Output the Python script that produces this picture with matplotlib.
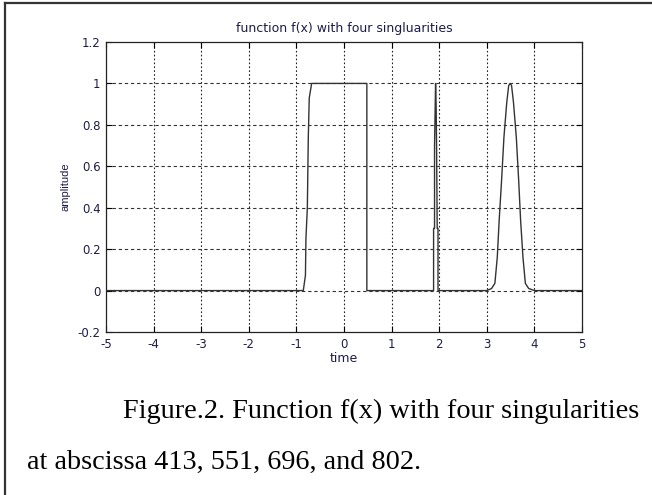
import numpy as np
import matplotlib.pyplot as plt
from matplotlib.lines import Line2D

# points (time, amplitude)
step_x = [-5.0, -0.855, -0.81, -0.80, -0.77, -0.75, -0.73, -0.68, 0.48, 0.48]
step_y = [0.0, 0.0, 0.074, 0.25, 0.40, 0.74, 0.93, 1.0, 1.0, 0.0]

spike_x = [1.882, 1.882, 1.902, 1.902, 1.924, 1.935, 1.945, 1.958, 1.975, 1.975]
spike_y = [0.0, 0.30, 0.30, 0.70, 1.0, 0.90, 0.70, 0.30, 0.30, 0.0]

bump_x = [3.00, 3.10, 3.17, 3.22, 3.26, 3.31, 3.36, 3.42, 3.46, 3.49,
          3.52, 3.56, 3.62, 3.67, 3.71, 3.76, 3.81, 3.88, 4.00, 5.0]
bump_y = [0.0, 0.01, 0.035, 0.16, 0.34, 0.53, 0.74, 0.91, 0.99, 1.0,
          0.99, 0.91, 0.74, 0.53, 0.34, 0.16, 0.035, 0.01, 0.0, 0.0]

xticks = [-5, -4, -3, -2, -1, 0, 1, 2, 3, 4, 5]
yticks = [-0.2, 0, 0.2, 0.4, 0.6, 0.8, 1, 1.2]
ytick_labels = ['-0.2', '0', '0.2', '0.4', '0.6', '0.8', '1', '1.2']

title = 'function f(x) with four singluarities'
caption1 = 'Figure.2. Function f(x) with four singularities'
caption2 = 'at abscissa 413, 551, 696, and 802.'

txt_col = '#1c1c48'
plt.rcParams['font.family'] = ['DejaVu Sans']

fig = plt.figure(figsize=(6.52, 4.95), dpi=100)
ax = fig.add_axes([106 / 652, 1 - 332 / 495, 476 / 652, 290 / 495])

t = np.concatenate([step_x, spike_x, bump_x])
a = np.concatenate([step_y, spike_y, bump_y])
ax.plot(t, a, color='#333333', lw=1.0, zorder=3)

ax.set_xlim(-5, 5)
ax.set_ylim(-0.2, 1.2)
ax.set_xticks(xticks)
ax.set_xticklabels([str(v) for v in xticks])
ax.set_yticks(yticks)
ax.set_yticklabels(ytick_labels)
ax.tick_params(direction='in', length=4, width=0.8, top=True, right=True,
               labelsize=8.5, labelcolor=txt_col, pad=4)

# matlab-ish grid: dotted verticals, dashed horizontals
for v in xticks[1:-1]:
    ax.axvline(v, color='#222222', lw=0.8, dashes=(1.5, 2.0), zorder=1)
for v in yticks[1:-1]:
    ax.axhline(v, color='#333333', lw=0.8, dashes=(3.0, 2.5), zorder=1)

for s in ax.spines.values():
    s.set_linewidth(0.9)
    s.set_color('#222222')

ax.set_title(title, fontsize=9, color=txt_col, pad=7)
ax.set_xlabel('time', fontsize=9, color=txt_col, labelpad=1)
ax.set_ylabel('amplitude', fontsize=8, color=txt_col, labelpad=5,
              family='Liberation Sans')

# frame of the page
fig.add_artist(Line2D([5 / 652, 5 / 652], [0, 1 - 3 / 495], transform=fig.transFigure,
                      color='#333333', lw=1.6))
fig.add_artist(Line2D([5 / 652, 1], [1 - 3 / 495, 1 - 3 / 495], transform=fig.transFigure,
                      color='#333333', lw=1.6))

fig.text(123 / 652, 1 - 418 / 495, caption1, fontsize=20.3, family='Liberation Serif',
         ha='left', va='baseline')
fig.text(27 / 652, 1 - 469 / 495, caption2, fontsize=20.3, family='Liberation Serif',
         ha='left', va='baseline')

fig.savefig('out.png', dpi=100)
